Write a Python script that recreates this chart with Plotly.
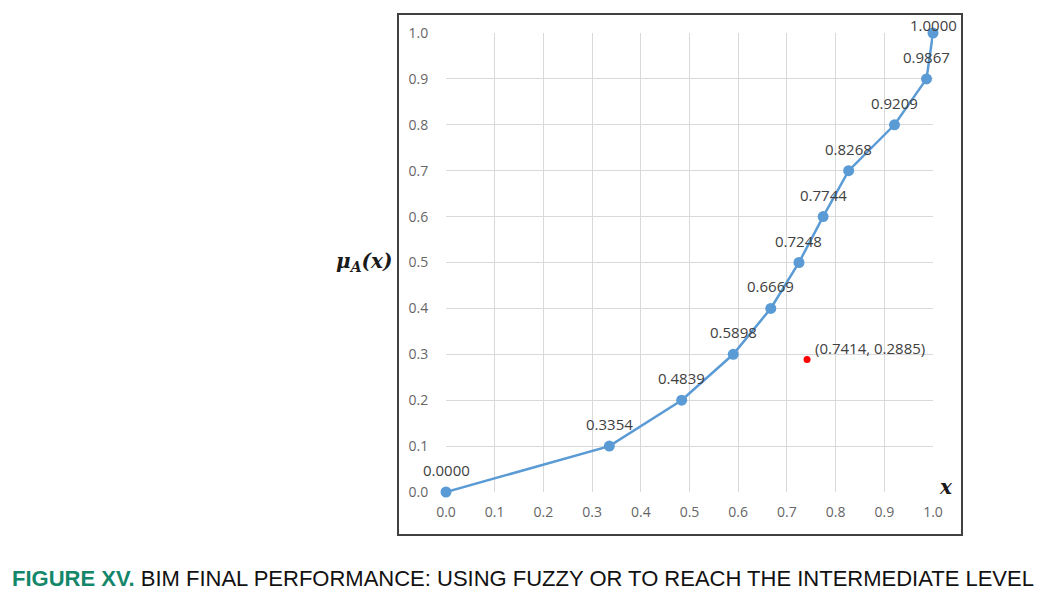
import plotly.graph_objects as go

x_vals = [0.0, 0.3354, 0.4839, 0.5898, 0.6669, 0.7248, 0.7744, 0.8268, 0.9209, 0.9867, 1.0]
y_vals = [0.0, 0.1, 0.2, 0.3, 0.4, 0.5, 0.6, 0.7, 0.8, 0.9, 1.0]
point_labels = ["0.0000", "0.3354", "0.4839", "0.5898", "0.6669", "0.7248",
                "0.7744", "0.8268", "0.9209", "0.9867", "1.0000"]
red_x = [0.7414]
red_y = [0.2885]
red_label = ["(0.7414, 0.2885)"]
tick_vals = [0.0, 0.1, 0.2, 0.3, 0.4, 0.5, 0.6, 0.7, 0.8, 0.9, 1.0]
tick_text = ["0.0", "0.1", "0.2", "0.3", "0.4", "0.5", "0.6", "0.7", "0.8", "0.9", "1.0"]

OFF = 8  # page body margin
W, H = 1056 - OFF, 595 - OFF
L, R, T, B = 446 - OFF, 933 - OFF, 33 - OFF, 492 - OFF
pw, ph = R - L, B - T

def px(xp):
    return (xp - OFF - L) / pw

def py(yp):
    return (B - (yp - OFF)) / ph

LABEL_FONT = dict(family="Open Sans, Liberation Sans, sans-serif", size=15, color="#404040")

fig = go.Figure()
fig.add_trace(go.Scatter(
    x=x_vals, y=y_vals, mode="lines+markers",
    line=dict(color="#5b9bd5", width=2.5),
    marker=dict(color="#5b9bd5", size=11),
    cliponaxis=False, showlegend=False, hoverinfo="skip"))
fig.add_trace(go.Scatter(
    x=red_x, y=red_y, mode="markers",
    marker=dict(color="#ff0000", size=7),
    cliponaxis=False, showlegend=False, hoverinfo="skip"))

annotations = []
for i, (xv, yv, lab) in enumerate(zip(x_vals, y_vals, point_labels)):
    last = i == len(x_vals) - 1
    annotations.append(dict(
        x=xv, y=yv, xref="x", yref="y", text=lab, showarrow=False,
        xanchor="center", yanchor="middle", yshift=8 if last else 22,
        font=LABEL_FONT))
annotations.append(dict(
    x=red_x[0], y=red_y[0], xref="x", yref="y", text=red_label[0], showarrow=False,
    xanchor="left", yanchor="middle", xshift=6, yshift=12, font=LABEL_FONT))

annotations += [
    dict(xref="paper", yref="paper", x=px(364), y=py(262),
         text="<b><i>μ<sub>A</sub>(x)</i></b>", showarrow=False,
         font=dict(family="DejaVu Serif, Liberation Serif, serif", size=20, color="#1a1a1a"),
         xanchor="center", yanchor="middle"),
    dict(xref="paper", yref="paper", x=px(946), y=py(487),
         text="<b><i>x</i></b>", showarrow=False,
         font=dict(family="DejaVu Serif, Liberation Serif, serif", size=20, color="#1a1a1a"),
         xanchor="center", yanchor="middle"),
    dict(xref="paper", yref="paper", x=px(10), y=py(578),
         text="<span style='color:#14876a'><b>FIGURE XV.</b></span> BIM FINAL PERFORMANCE: USING FUZZY OR TO REACH THE INTERMEDIATE LEVEL",
         showarrow=False,
         font=dict(family="Liberation Sans, Arial, sans-serif", size=22, color="#111111"),
         xanchor="left", yanchor="middle"),
]

axis_common = dict(
    range=[0, 1], tickvals=tick_vals, ticktext=tick_text,
    showgrid=True, gridcolor="#d9d9d9", gridwidth=1,
    zeroline=False, showline=False,
    ticks="outside", tickcolor="rgba(0,0,0,0)",
    tickfont=dict(family="Open Sans, Liberation Sans, sans-serif", size=14, color="#666666"),
    fixedrange=True,
)
fig.update_xaxes(ticklen=7, **axis_common)
fig.update_yaxes(ticklen=14, **axis_common)

fig.update_layout(
    width=W, height=H,
    margin=dict(l=L, r=W - R, t=T, b=H - B, pad=0),
    paper_bgcolor="white", plot_bgcolor="white",
    shapes=[dict(type="rect", xref="paper", yref="paper",
                 x0=px(398), x1=px(962), y0=py(535), y1=py(14),
                 line=dict(color="#404040", width=2), layer="below")],
    annotations=annotations,
)

fig.write_html("out.html")
